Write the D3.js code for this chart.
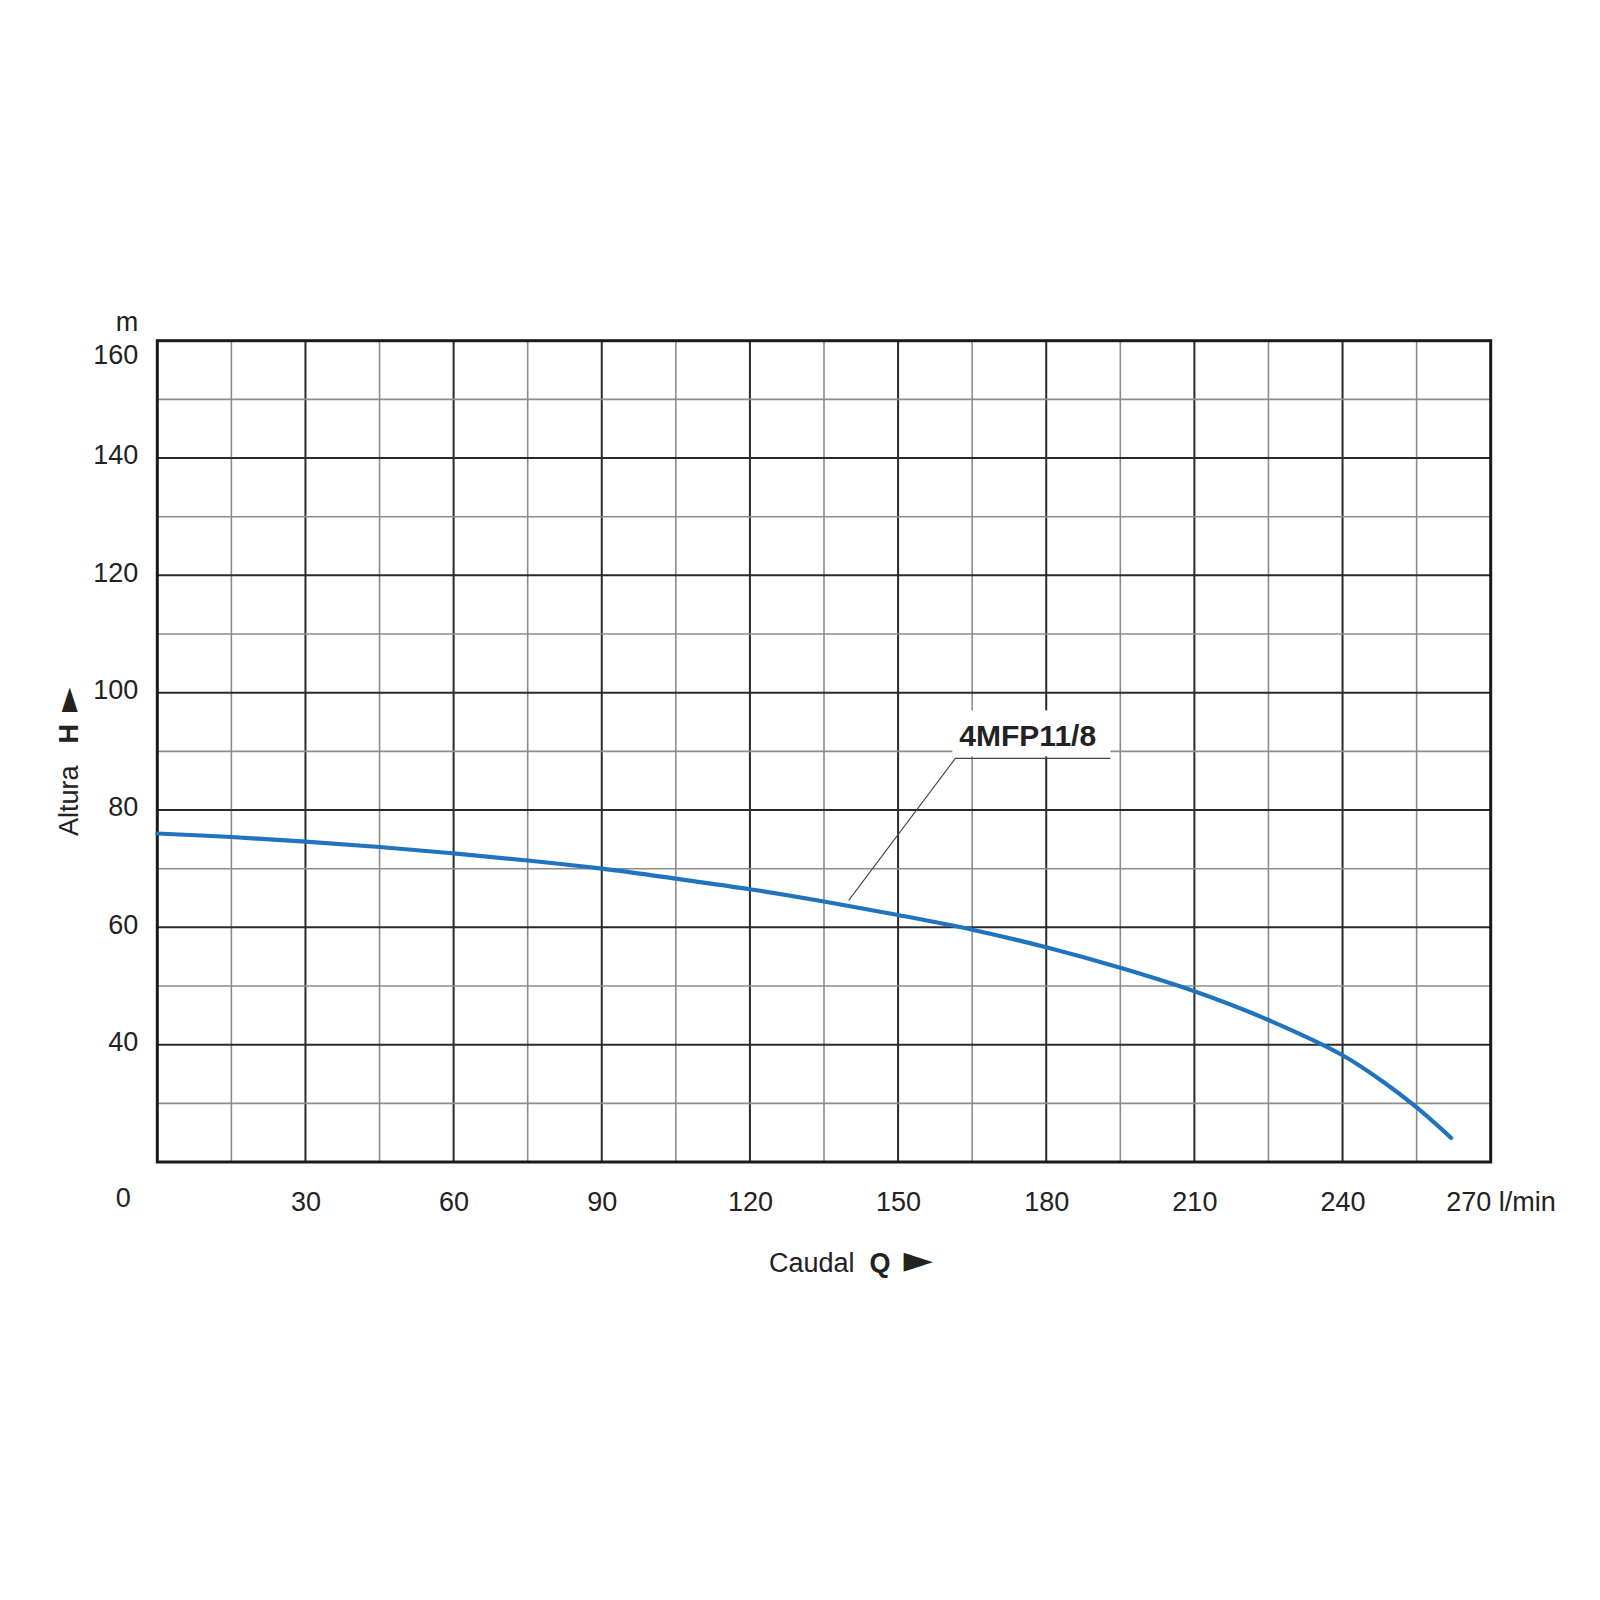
<!DOCTYPE html>
<html lang="es">
<head>
    <meta charset="UTF-8">
    <title>4MFP11/8 - Curva Caudal / Altura</title>
    <script src="https://d3js.org/d3.v7.min.js"></script>
    <style>
        body {
            margin: 0;
            background-color: #ffffff;
        }
        svg text {
            font-family: "Liberation Sans", Arial, sans-serif;
            fill: #222;
        }
    </style>
</head>
<body>

    <div id="chart"></div>

    <script>
        // Curva de la bomba: caudal (l/min) y altura (m)
        const caudal = [0, 15, 30, 45, 60, 75, 90, 105, 120, 135, 150, 165, 180, 195, 210, 225, 240, 248, 255, 262];
        const altura = [76.0, 75.4, 74.6, 73.7, 72.6, 71.4, 70.0, 68.3, 66.5, 64.4, 62.1, 59.6, 56.6, 53.1, 49.1, 44.2, 38.2, 33.8, 29.3, 24.1];

        // Ticks de los ejes
        const xTicks = [30, 60, 90, 120, 150, 180, 210, 240, 270];
        const xTickLabels = ["30", "60", "90", "120", "150", "180", "210", "240", "270 l/min"];
        const yTicks = [40, 60, 80, 100, 120, 140, 160];
        const xGrid = [15, 30, 45, 60, 75, 90, 105, 120, 135, 150, 165, 180, 195, 210, 225, 240, 255];
        const yGrid = [30, 40, 50, 60, 70, 80, 90, 100, 110, 120, 130, 140, 150];

        // Etiqueta del modelo
        const modelo = "4MFP11/8";
        const modeloPunto = [140, 64.6];     // donde toca la curva
        const modeloCodo = [161.6, 88.8];    // inicio del subrayado
        const modeloFin = 193;               // fin del subrayado

        const width = 1600, height = 1600;
        const plot = { left: 157.3, right: 1490.7, top: 340.7, bottom: 1162 };

        const svg = d3.select("#chart")
            .append("svg")
            .attr("width", width)
            .attr("height", height);

        svg.append("rect")
            .attr("width", width)
            .attr("height", height)
            .attr("fill", "#fff");

        const x = d3.scaleLinear()
            .domain([0, 270])
            .range([plot.left, plot.right]);

        const y = d3.scaleLinear()
            .domain([20, 160])
            .range([plot.bottom, plot.top]);

        // Rejilla
        const grid = svg.append("g");
        grid.selectAll(".vline")
            .data(xGrid)
            .enter().append("line")
            .attr("x1", d => x(d)).attr("x2", d => x(d))
            .attr("y1", plot.top).attr("y2", plot.bottom)
            .attr("stroke", d => d % 30 === 0 ? "#2b2b2b" : "#8c8c8c")
            .attr("stroke-width", d => d % 30 === 0 ? 2 : 1.6);

        grid.selectAll(".hline")
            .data(yGrid)
            .enter().append("line")
            .attr("x1", plot.left).attr("x2", plot.right)
            .attr("y1", d => y(d)).attr("y2", d => y(d))
            .attr("stroke", d => d % 20 === 0 ? "#2b2b2b" : "#8c8c8c")
            .attr("stroke-width", d => d % 20 === 0 ? 2 : 1.6);

        // Marco
        svg.append("rect")
            .attr("x", plot.left)
            .attr("y", plot.top)
            .attr("width", plot.right - plot.left)
            .attr("height", plot.bottom - plot.top)
            .attr("fill", "none")
            .attr("stroke", "#1a1a1a")
            .attr("stroke-width", 3);

        // Eje X
        const xAxis = svg.append("g")
            .attr("transform", `translate(0,${plot.bottom})`)
            .call(d3.axisBottom(x)
                .tickValues(xTicks)
                .tickSize(0)
                .tickPadding(30)
                .tickFormat((d, i) => xTickLabels[i]));
        xAxis.select(".domain").remove();
        xAxis.selectAll("text")
            .attr("font-size", 27)
            .attr("fill", "#222")
            .attr("font-family", "Liberation Sans, Arial, sans-serif");
        xAxis.selectAll("text")
            .filter(d => d === 270)
            .attr("text-anchor", "start")
            .attr("dx", -45);

        // Eje Y
        const yAxis = svg.append("g")
            .attr("transform", `translate(${plot.left},0)`)
            .call(d3.axisLeft(y)
                .tickValues(yTicks)
                .tickSize(0)
                .tickPadding(19));
        yAxis.select(".domain").remove();
        yAxis.selectAll("text")
            .attr("font-size", 27)
            .attr("fill", "#222")
            .attr("font-family", "Liberation Sans, Arial, sans-serif")
            .attr("dy", d => d === 160 ? "0.84em" : "0.21em");

        // Origen y unidad
        svg.append("text")
            .attr("x", plot.left - 34)
            .attr("y", plot.bottom + 45)
            .attr("text-anchor", "middle")
            .attr("font-size", 27)
            .text("0");

        svg.append("text")
            .attr("x", plot.left - 19)
            .attr("y", plot.top - 10)
            .attr("text-anchor", "end")
            .attr("font-size", 27)
            .text("m");

        // Títulos de los ejes
        const xTitle = svg.append("text")
            .attr("x", 769)
            .attr("y", 1272)
            .attr("font-size", 27);
        xTitle.append("tspan").text("Caudal");
        xTitle.append("tspan").attr("dx", 15).attr("font-weight", "bold").text("Q");
        xTitle.append("tspan").attr("dx", 13).attr("font-size", 38)
            .attr("font-family", "DejaVu Sans, sans-serif").text("\u25BA");

        const yTitle = svg.append("text")
            .attr("transform", "translate(78,836) rotate(-90)")
            .attr("font-size", 27);
        yTitle.append("tspan").text("Altura");
        yTitle.append("tspan").attr("dx", 22).attr("font-weight", "bold").text("H");
        yTitle.append("tspan").attr("dx", 12).attr("font-size", 32)
            .attr("font-family", "DejaVu Sans, sans-serif").text("\u25BA");

        // Curva
        const line = d3.line()
            .x((d, i) => x(caudal[i]))
            .y(d => y(d))
            .curve(d3.curveCatmullRom.alpha(0.5));

        svg.append("path")
            .datum(altura)
            .attr("d", line)
            .attr("fill", "none")
            .attr("stroke", "#1f74bd")
            .attr("stroke-width", 4.2)
            .attr("stroke-linecap", "round");

        // Etiqueta del modelo con línea guía
        const cx = x(modeloCodo[0]), cy = y(modeloCodo[1]);
        svg.append("rect")
            .attr("x", cx - 3)
            .attr("y", cy - 48)
            .attr("width", x(modeloFin) - cx + 3)
            .attr("height", 46)
            .attr("fill", "#fff");

        svg.append("text")
            .attr("x", cx + 4)
            .attr("y", cy - 12)
            .attr("font-size", 30)
            .attr("font-weight", "bold")
            .text(modelo);

        svg.append("polyline")
            .attr("points", [
                [x(modeloPunto[0]), y(modeloPunto[1])],
                [cx, cy],
                [x(modeloFin), cy]
            ].map(p => p.join(",")).join(" "))
            .attr("fill", "none")
            .attr("stroke", "#444")
            .attr("stroke-width", 1.1);
    </script>

</body>
</html>
